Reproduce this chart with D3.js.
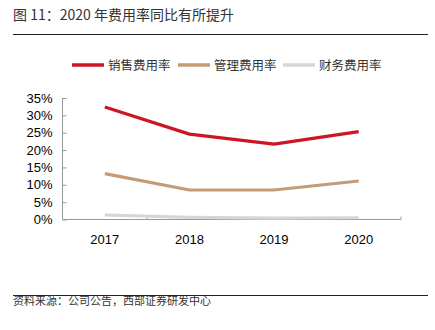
<!DOCTYPE html>
<html><head><meta charset="utf-8">
<script src="https://cdn.jsdelivr.net/npm/d3@7"></script>
<style>body{margin:0;background:#fff;}svg{display:block;}</style>
</head><body>
<svg id="c" width="435" height="330"></svg>
<script>
const categories = ["2017", "2018", "2019", "2020"];
const salesRate = [32.4, 24.6, 21.7, 25.3];
const adminRate = [13.2, 8.5, 8.5, 11.1];
const finRate = [1.3, 0.6, 0.4, 0.5];
const seriesNames = ["销售费用率", "管理费用率", "财务费用率"];
const yTicks = [0, 5, 10, 15, 20, 25, 30, 35];

const colors = ["#CC1626", "#C39B76", "#D6D6D6"];
const cjk = "'Noto Sans CJK SC', sans-serif";
const latin = "'Liberation Sans', Arial, sans-serif";
const svg = d3.select("#c");

// title
svg.append("text").attr("x", 13).attr("y", 20).attr("font-family", cjk).attr("font-size", 14).attr("fill", "#333")
  .text("图 11：2020 年费用率同比有所提升");
svg.append("line").attr("x1", 13).attr("x2", 428).attr("y1", 34.5).attr("y2", 34.5).attr("stroke", "#222").attr("stroke-width", 1);

// scales
const x = d3.scaleBand().domain(categories).range([62.5, 401]);
const y = d3.scaleLinear().domain([0, 35]).range([219.5, 98]);

// y axis
const yAxis = svg.append("g").attr("transform", "translate(62.5,0)")
  .call(d3.axisLeft(y).tickValues(yTicks).tickFormat(d => d + "%").tickSize(-4).tickPadding(10));
yAxis.select(".domain").attr("stroke", "#999").attr("d", "M-0,98V219.5");
yAxis.selectAll(".tick line").attr("stroke", "#999");
yAxis.selectAll(".tick text").attr("font-family", latin).attr("font-size", 13).attr("fill", "#000");

// x axis
const xAxis = svg.append("g").attr("transform", "translate(0,219.5)")
  .call(d3.axisBottom(x).tickSize(0).tickPadding(15));
xAxis.select(".domain").attr("stroke", "#999").attr("d", "M62.5,0H401V-3");
xAxis.selectAll(".tick text").attr("font-family", latin).attr("font-size", 13).attr("fill", "#000");
svg.append("g").selectAll("line").data(categories.slice(1)).join("line")
  .attr("x1", d => x(d)).attr("x2", d => x(d)).attr("y1", 219.5).attr("y2", 216.5).attr("stroke", "#999");

// lines
const allSeries = [salesRate, adminRate, finRate];
const line = d3.line().x((d, i) => x(categories[i]) + x.bandwidth() / 2).y(d => y(d));
[2, 1, 0].forEach(k => {
  svg.append("path").attr("d", line(allSeries[k])).attr("fill", "none")
    .attr("stroke", colors[k]).attr("stroke-width", 3.2).attr("stroke-linejoin", "round");
});

// legend
const legX = [72, 178, 283];
seriesNames.forEach((n, i) => {
  svg.append("line").attr("x1", legX[i]).attr("x2", legX[i] + 32).attr("y1", 65).attr("y2", 65)
    .attr("stroke", colors[i]).attr("stroke-width", 3.5);
  svg.append("text").attr("x", legX[i] + 36).attr("y", 69.5).attr("font-family", cjk).attr("font-size", 12.5).attr("fill", "#333").text(n);
});

// footer
svg.append("line").attr("x1", 13).attr("x2", 428).attr("y1", 295.5).attr("y2", 295.5).attr("stroke", "#222").attr("stroke-width", 1);
svg.append("text").attr("x", 13).attr("y", 305).attr("font-family", cjk).attr("font-size", 11).attr("fill", "#333")
  .text("资料来源：公司公告，西部证券研发中心");
</script>
</body></html>
